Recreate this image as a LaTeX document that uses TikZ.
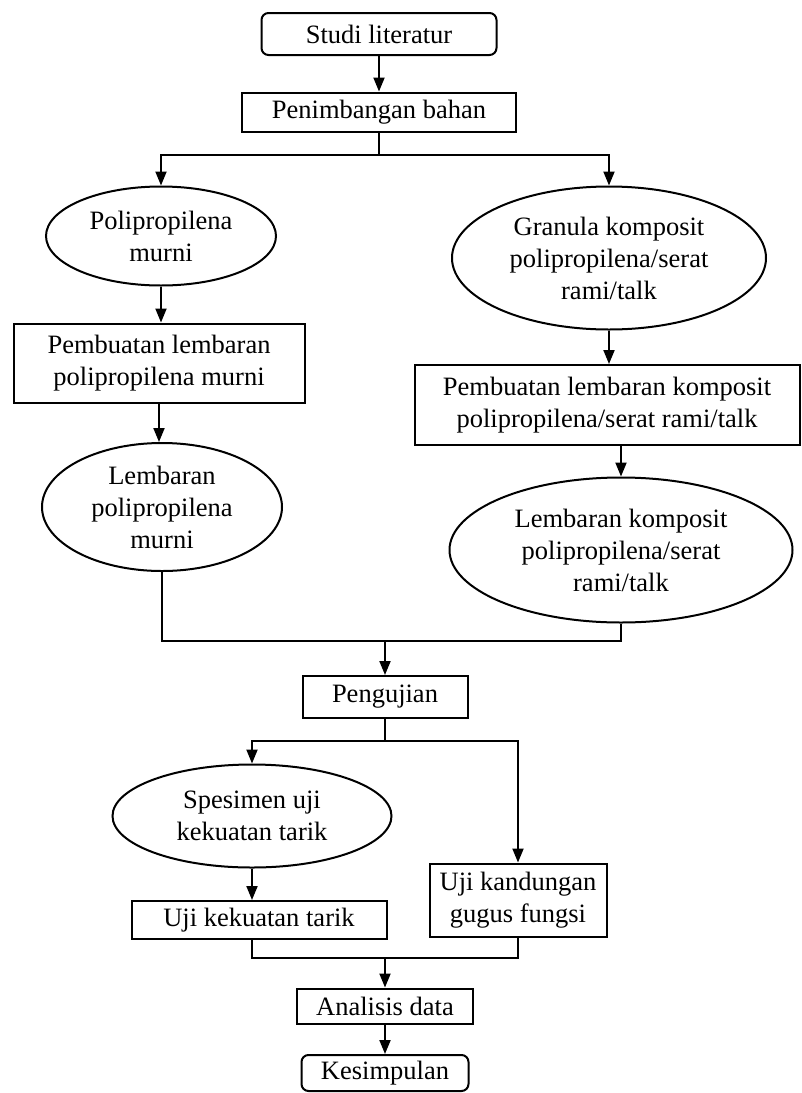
\documentclass[tikz,border=0pt]{standalone}
\usepackage{fontspec}
\setmainfont{Liberation Serif}
\usetikzlibrary{arrows.meta}
\usetikzlibrary{shapes.geometric}

\begin{document}
\begin{tikzpicture}[x=1pt, y=1pt,
    every node/.style={font=\fontsize{26.5}{32}\selectfont, align=center,
      inner sep=0pt, line width=2pt},
    plainbox/.style={draw, rectangle},
    roundbox/.style={draw, rectangle, rounded corners=7pt},
    blob/.style={draw, ellipse},
    arr/.style={line width=2pt, -{Triangle[length=14pt, width=11pt]}},
    lin/.style={line width=2pt}]
    \useasboundingbox (0, 0) rectangle (802, -1093);

    \node[roundbox, minimum width=235, minimum height=42] (studi) at (379, -34) {Studi literatur};
    \node[plainbox, minimum width=274, minimum height=39] (bahan) at (379, -112) {Penimbangan bahan};
    \coordinate (fork1) at (379, -155);

    \node[blob, minimum width=230, minimum height=99] (pp) at (161, -236) {Polipropilena\\murni};
    \node[plainbox, minimum width=291, minimum height=79] (lembpp) at (159, -363) {Pembuatan lembaran\\polipropilena murni};
    \node[blob, minimum width=240, minimum height=128] (shpp) at (162, -507) {Lembaran\\polipropilena\\murni};

    \node[blob, minimum width=314, minimum height=143] (granula) at (609, -258) {Granula komposit\\polipropilena/serat\\rami/talk};
    \node[plainbox, minimum width=385, minimum height=80] (lembkomp) at (607, -405) {Pembuatan lembaran komposit\\polipropilena/serat rami/talk};
    \node[blob, minimum width=343, minimum height=145] (shkomp) at (621, -550) {Lembaran komposit\\polipropilena/serat\\rami/talk};

    \coordinate (join1) at (385, -641);
    \node[plainbox, minimum width=165, minimum height=42] (uji) at (385, -697) {Pengujian};
    \coordinate (fork2) at (385, -741);

    \node[blob, minimum width=279, minimum height=103] (spesimen) at (252, -816) {Spesimen uji\\kekuatan tarik};
    \node[plainbox, minimum width=255, minimum height=38] (tarik) at (259, -920) {Uji kekuatan tarik};
    \node[plainbox, minimum width=177, minimum height=73] (gugus) at (518, -900) {Uji kandungan\\gugus fungsi};

    \coordinate (join3) at (385, -958);
    \node[plainbox, minimum width=176, minimum height=35] (analisis) at (385, -1006) {Analisis data};
    \node[roundbox, minimum width=167, minimum height=36] (simpul) at (385, -1073) {Kesimpulan};

    \draw[arr] (studi) -- (bahan);
    \draw[lin] (bahan) -- (fork1);
    \draw[arr] (fork1) -| (pp.north);
    \draw[arr] (fork1) -| (granula.north);
    \draw[arr] (pp.south) -- (pp.south |- lembpp.north);
    \draw[arr] (lembpp.south) -- (lembpp.south |- shpp.north);
    \draw[arr] (granula.south) -- (granula.south |- lembkomp.north);
    \draw[arr] (shkomp.north |- lembkomp.south) -- (shkomp.north);
    \draw[lin] (shpp.south) |- (join1) -| (shkomp.south);
    \draw[arr] (join1) -- (uji);
    \draw[lin] (uji) -- (fork2);
    \draw[arr] (fork2) -| (spesimen.north);
    \draw[arr] (fork2) -| (gugus.north);
    \draw[arr] (spesimen.south) -- (spesimen.south |- tarik.north);
    \draw[lin] (spesimen.south |- tarik.south) |- (join3) -| (gugus.south);
    \draw[arr] (join3) -- (analisis);
    \draw[arr] (analisis) -- (simpul);
\end{tikzpicture}
\end{document}
